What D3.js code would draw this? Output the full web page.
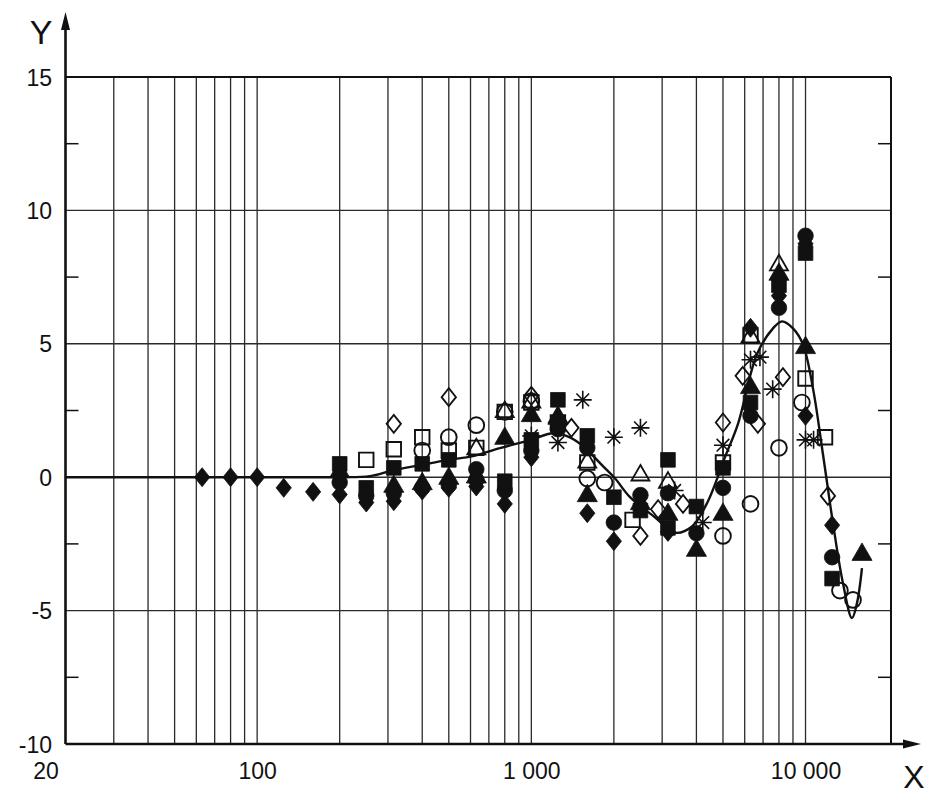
<!DOCTYPE html>
<html><head><meta charset="utf-8">
<script src="https://cdn.jsdelivr.net/npm/d3@7"></script>
<style>body{margin:0;background:#fff}svg{display:block}</style>
</head><body>
<svg id="c" width="935" height="794"></svg>
<script>
// ---------- data ----------
const xTickValues = [20, 100, 1000, 10000];
const xTickLabels = ["20", "100", "1 000", "10 000"];
const yTickValues = [-10, -5, 0, 5, 10, 15];
const yMinorTicks = [-7.5, -2.5, 2.5, 7.5, 12.5];
const gridX = [30,40,50,60,70,80,90,100,200,300,400,500,600,700,800,900,1000,
               2000,3000,4000,5000,6000,7000,8000,9000,10000];
const gridY = [-5, 0, 5, 10];

// fitted curve
const curveF = [20,63,125,200,258,313,393,492,613,768,988,1198,1349,1530,1810,2018,2290,2824,3342,3854,4408,5084,5672,6650,7610,8206,9000,9788,10646,11578,12590,13692,14770,15406,16066];
const curveV = [0,0,0,0,0.04,0.26,0.45,0.64,0.79,1.09,1.39,1.65,1.54,1.2,0.45,-0.04,-0.75,-1.5,-2.08,-1.85,-0.9,0.75,2.0,4.61,5.58,5.84,5.58,4.98,3.33,0.86,-1.72,-3.97,-5.28,-4.72,-3.41];

// measured points [frequency, value]
const filledDiamond = [[63,0],[80,0],[100,0],[125,-0.4],[160,-0.55],[200,-0.65],[250,-0.95],[315,-0.9],[400,-0.5],[500,-0.4],[630,-0.35],[800,-1.0],[1000,0.75],[1600,-1.35],[2000,-2.4],[3150,-2.05],[6300,5.6],[8000,6.8],[10000,8.75],[10000,2.3],[12500,-1.8]];
const filledSquare = [[200,0.5],[250,-0.4],[315,0.35],[400,0.5],[500,0.65],[800,-0.15],[1000,1.4],[1250,2.9],[1250,2.0],[1600,1.55],[2000,-0.75],[2500,-1.25],[3150,0.65],[3150,-1.9],[4000,-1.1],[5000,0.35],[6300,2.8],[8000,7.2],[10000,8.4],[12500,-3.8]];
const filledCircle = [[200,-0.2],[250,-0.7],[315,-0.6],[400,-0.4],[500,-0.3],[630,0.3],[630,-0.1],[800,-0.5],[1000,1.0],[1250,1.8],[1600,1.1],[2000,-1.7],[2500,-0.67],[3150,-0.6],[4000,-2.1],[5000,-0.4],[6300,2.3],[8000,6.35],[10000,9.05],[12500,-3.0]];
const filledTriangle = [[200,0.2],[315,-0.35],[400,-0.25],[500,-0.05],[630,0.0],[800,1.45],[1000,2.3],[1250,2.2],[1600,-0.7],[2500,-1.0],[3150,-1.4],[4000,-2.75],[5000,-1.4],[6300,3.35],[8000,7.6],[10000,4.85],[16070,-2.9]];
const openSquare = [[250,0.65],[315,1.05],[400,1.5],[500,1.0],[630,1.1],[800,2.45],[1000,2.8],[1250,2.05],[1600,0.55],[2340,-1.6],[5000,0.55],[6300,5.3],[10000,3.7],[11780,1.5]];
const openCircle = [[400,1.0],[500,1.5],[630,1.95],[800,2.45],[1000,2.85],[1600,-0.05],[1850,-0.2],[5000,-2.2],[6300,-1.0],[8000,1.1],[9700,2.8],[13350,-4.25],[14900,-4.6]];
const openTriangle = [[630,1.05],[800,2.45],[1000,2.8],[1250,2.25],[1600,0.55],[2500,0.07],[3150,-0.2],[6300,5.25],[8000,7.95]];
const openDiamond = [[315,2.0],[500,3.0],[1000,3.05],[1400,1.85],[2500,-2.2],[2900,-1.2],[3575,-1.0],[5000,2.05],[5900,3.8],[6700,2.0],[8270,3.75],[12070,-0.7]];
const asterisk = [[1000,1.55],[1250,1.3],[1540,2.9],[2000,1.5],[2500,1.85],[3330,-0.5],[4220,-1.7],[5000,1.2],[6300,4.4],[6820,4.5],[7590,3.3],[10000,1.4],[10700,1.4]];

// ---------- layout ----------
const svg = d3.select("#c");
const x = d3.scaleLog().domain([20, 20500]).range([65.5, 891]);
const y = d3.scaleLinear().domain([-10, 15]).range([744, 77]);
const FONT = "'Liberation Sans', Arial, sans-serif";
const ink = "#111";

// grid
const g = svg.append("g");
g.selectAll("line.vx").data(gridX).join("line")
  .attr("x1", d => x(d)).attr("x2", d => x(d))
  .attr("y1", y(15)).attr("y2", y(-10))
  .attr("stroke", "#2a2a2a").attr("stroke-width", 1.3);
g.selectAll("line.hy").data(gridY).join("line")
  .attr("x1", x(20)).attr("x2", x(20500))
  .attr("y1", d => y(d)).attr("y2", d => y(d))
  .attr("stroke", "#2a2a2a").attr("stroke-width", 1.4);
// top and right borders
g.append("line").attr("x1", x(20)).attr("x2", x(20500)).attr("y1", y(15)).attr("y2", y(15))
  .attr("stroke", ink).attr("stroke-width", 2);
g.append("line").attr("x1", x(20500)).attr("x2", x(20500)).attr("y1", y(15)).attr("y2", y(-10))
  .attr("stroke", ink).attr("stroke-width", 2);
// minor ticks
g.selectAll("line.ml").data(yMinorTicks).join("line")
  .attr("x1", x(20)).attr("x2", x(20) + 13).attr("y1", d => y(d)).attr("y2", d => y(d))
  .attr("stroke", ink).attr("stroke-width", 1.5);
g.selectAll("line.mr").data(yMinorTicks).join("line")
  .attr("x1", x(20500) - 13).attr("x2", x(20500)).attr("y1", d => y(d)).attr("y2", d => y(d))
  .attr("stroke", ink).attr("stroke-width", 1.5);

// axes lines with arrows
svg.append("line").attr("x1", x(20)).attr("x2", x(20)).attr("y1", y(-10)).attr("y2", 22)
  .attr("stroke", ink).attr("stroke-width", 2.6);
svg.append("path").attr("d", `M${x(20)},12 L${x(20)-4.5},30 L${x(20)+4.5},30 Z`).attr("fill", ink);
svg.append("line").attr("x1", x(20)).attr("x2", 912).attr("y1", y(-10)).attr("y2", y(-10))
  .attr("stroke", ink).attr("stroke-width", 2.4);
svg.append("path").attr("d", `M921,${y(-10)} L903,${y(-10)-4.5} L903,${y(-10)+4.5} Z`).attr("fill", ink);

// tick labels through d3 axes
const yAxis = d3.axisLeft(y).tickValues(yTickValues).tickSize(0).tickPadding(0).tickFormat(d => String(d));
const ya = svg.append("g").attr("transform", "translate(52,0)").call(yAxis);
ya.select(".domain").remove();
ya.selectAll("text").attr("font-family", FONT).attr("font-size", 23).attr("fill", ink).attr("dy", "0.35em");

const xAxis = d3.axisBottom(x).tickValues(xTickValues).tickSize(0).tickPadding(0)
  .tickFormat((d, i) => xTickLabels[i]);
const xa = svg.append("g").attr("transform", "translate(0,763)").call(xAxis);
xa.select(".domain").remove();
xa.selectAll("text").attr("font-family", FONT).attr("font-size", 23).attr("fill", ink).attr("dy", "0.71em")
  .attr("dx", (d, i) => i === 0 ? -20 : 0);

svg.append("text").attr("x", 41).attr("y", 44).attr("text-anchor", "middle")
  .attr("font-family", FONT).attr("font-size", 34).attr("fill", ink).text("Y");
svg.append("text").attr("x", 914).attr("y", 788).attr("text-anchor", "middle")
  .attr("font-family", FONT).attr("font-size", 32).attr("fill", ink).text("X");

// ---------- markers ----------
const diamondType = { draw(ctx, s) { const h = s, w = s * 0.8; ctx.moveTo(0, -h); ctx.lineTo(w, 0); ctx.lineTo(0, h); ctx.lineTo(-w, 0); ctx.closePath(); } };
const asteriskType = { draw(ctx, s) { const r = s, q = s * 0.7071;
  ctx.moveTo(0, -r); ctx.lineTo(0, r); ctx.moveTo(-r, 0); ctx.lineTo(r, 0);
  ctx.moveTo(-q, -q); ctx.lineTo(q, q); ctx.moveTo(-q, q); ctx.lineTo(q, -q); } };

const marks = svg.append("g");
function plot(data, type, size, filled, sw) {
  marks.append("g").selectAll("path").data(data).join("path")
    .attr("transform", d => `translate(${x(d[0])},${y(d[1])})`)
    .attr("d", d3.symbol().type(type).size(size)())
    .attr("fill", filled ? ink : "none")
    .attr("stroke", ink).attr("stroke-width", sw || 1.6)
    .attr("stroke-linejoin", "miter");
}
plot(openSquare, d3.symbolSquare, 210, false, 1.9);
plot(openCircle, d3.symbolCircle, 195, false, 1.9);
plot(openTriangle, d3.symbolTriangle, 140, false, 1.8);
plot(openDiamond, diamondType, 9, false, 1.8);
plot(filledDiamond, diamondType, 9.5, true, 0.8);
plot(filledCircle, d3.symbolCircle, 190, true, 0.8);
plot(filledSquare, d3.symbolSquare, 215, true, 0.8);
plot(filledTriangle, d3.symbolTriangle, 175, true, 0.8);
plot(asterisk, asteriskType, 9, false, 1.6);

// ---------- fitted curve ----------
const curveData = curveF.map((f, i) => [f, curveV[i]]);
svg.append("path").datum(curveData)
  .attr("d", d3.line().x(d => x(d[0])).y(d => y(d[1])).curve(d3.curveCatmullRom.alpha(0.5)))
  .attr("fill", "none").attr("stroke", ink).attr("stroke-width", 2.4);
</script></body></html>
